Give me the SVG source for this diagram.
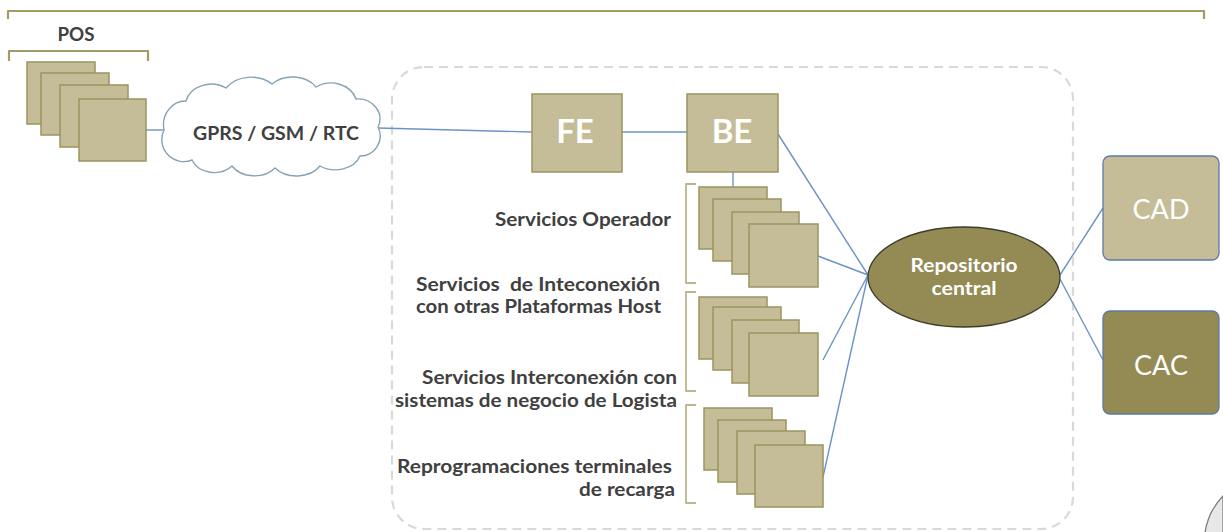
<svg xmlns="http://www.w3.org/2000/svg" width="1223" height="532" viewBox="0 0 1223 532">
<style>
.sq{fill:#c4bd97;stroke:#9c945f;stroke-width:1.5}
.br{fill:none;stroke:#bdb68b;stroke-width:1.8;stroke-linejoin:round}
.brd{fill:none;stroke:#a39c68;stroke-width:2.2;stroke-linejoin:round}
.cn{fill:none;stroke:#6b93c8;stroke-width:1.4}
.lbl{font-family:Lato,"Open Sans",sans-serif;font-weight:bold;font-size:18px;fill:#404040}
.big{font-family:Lato,"Open Sans",sans-serif;font-weight:bold;font-size:33px;fill:#ffffff;text-anchor:middle}
.ca{font-family:Lato,"Open Sans",sans-serif;font-size:27px;fill:#ffffff;text-anchor:middle}
.rep{font-family:Lato,"Open Sans",sans-serif;font-weight:bold;font-size:18px;fill:#ffffff;text-anchor:middle}
</style>
<rect width="1223" height="532" fill="#ffffff"/>
<g id="frame">
<path class="brd" d="M8,19 V11 H1204 V19"/>
<rect x="392" y="67" width="681" height="462" rx="32" fill="none" stroke="#d9d9d9" stroke-width="2.2" stroke-dasharray="9,6"/>
<path d="M1205,533 A66,66 0 0 1 1223,496 L1223,533 Z" fill="#e8e8e8" stroke="#7f7f7f" stroke-width="1.3"/>
</g>
<g id="connectors">
<line class="cn" x1="146" y1="130" x2="164" y2="130"/>
<line class="cn" x1="378" y1="128" x2="532" y2="132"/>
<line class="cn" x1="622" y1="132" x2="687" y2="132"/>
<line class="cn" x1="733" y1="172" x2="733" y2="187"/>
<line class="cn" x1="778" y1="134" x2="868" y2="275"/>
<line class="cn" x1="818" y1="256" x2="868" y2="275"/>
<line class="cn" x1="823" y1="360" x2="868" y2="275"/>
<line class="cn" x1="823" y1="477" x2="868" y2="275"/>
<line class="cn" x1="1060" y1="275" x2="1103" y2="208"/>
<line class="cn" x1="1060" y1="279" x2="1103" y2="360"/>
</g>
<g id="pos">
<path class="brd" d="M9,61 V51 H148 V61"/>
<text class="lbl" x="76" y="41" text-anchor="middle" textLength="37" lengthAdjust="spacingAndGlyphs">POS</text>
<rect class="sq" x="27" y="62" width="68" height="62"/>
<rect class="sq" x="41" y="73" width="68" height="62"/>
<rect class="sq" x="60" y="85" width="68" height="62"/>
<rect class="sq" x="79" y="99" width="67" height="62"/>
</g>
<g id="cloud">
<path d="M164,130 A22,24 0 0 1 186,101 A26,22 0 0 1 226,88 A30,24 0 0 1 272,84 A28,22 0 0 1 316,87 A26,22 0 0 1 356,99 A22,20 0 0 1 378,127 A20,20 0 0 1 360,156 A26,20 0 0 1 320,166 A28,22 0 0 1 275,168 A26,20 0 0 1 232,166 A24,20 0 0 1 192,160 A22,22 0 0 1 164,130 Z" fill="#ffffff" stroke="#86a3b4" stroke-width="1.4"/>
<text class="lbl" x="276" y="140" text-anchor="middle" textLength="166" lengthAdjust="spacingAndGlyphs">GPRS / GSM / RTC</text>
</g>
<g id="fe">
<rect class="sq" x="532" y="94" width="90" height="78"/>
<text class="big" x="575" y="143">FE</text>
</g>
<g id="be">
<rect class="sq" x="687" y="94" width="91" height="78"/>
<text class="big" x="732" y="143">BE</text>
</g>
<g id="servicios-operador">
<path class="br" d="M696,184 H686 V283 H696"/>
<rect class="sq" x="699" y="187" width="68" height="62"/>
<rect class="sq" x="713" y="199" width="68" height="62"/>
<rect class="sq" x="732" y="212" width="67" height="62"/>
<rect class="sq" x="749" y="224" width="69" height="63"/>
<text class="lbl" x="671" y="226" text-anchor="end" textLength="176" lengthAdjust="spacingAndGlyphs">Servicios Operador</text>
</g>
<g id="servicios-interconexion-host">
<path class="br" d="M696,292 H686 V391 H696"/>
<rect class="sq" x="699" y="297" width="68" height="62"/>
<rect class="sq" x="713" y="307" width="68" height="63"/>
<rect class="sq" x="732" y="320" width="67" height="63"/>
<rect class="sq" x="749" y="333" width="69" height="63"/>
<text class="lbl" x="416" y="291" textLength="244" lengthAdjust="spacingAndGlyphs" xml:space="preserve">Servicios  de Inteconexión</text>
<text class="lbl" x="416" y="313" textLength="245" lengthAdjust="spacingAndGlyphs">con otras Plataformas Host</text>
<text class="lbl" x="677" y="384" text-anchor="end" textLength="255" lengthAdjust="spacingAndGlyphs">Servicios Interconexión con</text>
<text class="lbl" x="677" y="407" text-anchor="end" textLength="282" lengthAdjust="spacingAndGlyphs">sistemas de negocio de Logista</text>
</g>
<g id="reprogramaciones">
<path class="br" d="M696,405 H686 V503 H696"/>
<rect class="sq" x="704" y="408" width="68" height="62"/>
<rect class="sq" x="718" y="420" width="68" height="62"/>
<rect class="sq" x="737" y="431" width="68" height="63"/>
<rect class="sq" x="755" y="445" width="68" height="62"/>
<text class="lbl" x="672" y="473" text-anchor="end" textLength="275" lengthAdjust="spacingAndGlyphs">Reprogramaciones terminales</text>
<text class="lbl" x="675" y="496" text-anchor="end" textLength="96" lengthAdjust="spacingAndGlyphs">de recarga</text>
</g>
<g id="repositorio">
<ellipse cx="964" cy="277" rx="96" ry="50" fill="#948a54" stroke="#3d3b2c" stroke-width="1.3"/>
<text class="rep" x="964" y="272" textLength="107" lengthAdjust="spacingAndGlyphs">Repositorio</text>
<text class="rep" x="964" y="295" textLength="65" lengthAdjust="spacingAndGlyphs">central</text>
</g>
<g id="cad">
<rect x="1103" y="156" width="116" height="104" rx="7" fill="#c4bd97" stroke="#5b7ba6" stroke-width="1.3"/>
<text class="ca" x="1161" y="219">CAD</text>
</g>
<g id="cac">
<rect x="1103" y="311" width="116" height="103" rx="7" fill="#948a54" stroke="#5b7ba6" stroke-width="1.3"/>
<text class="ca" x="1161" y="375">CAC</text>
</g>
</svg>
